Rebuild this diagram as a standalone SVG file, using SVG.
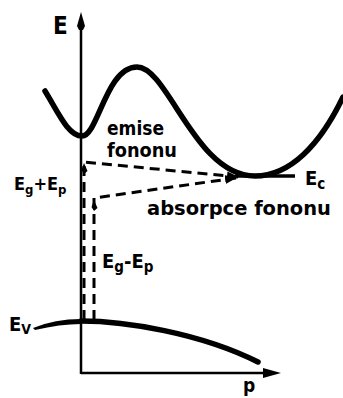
<svg xmlns="http://www.w3.org/2000/svg" width="343" height="398" viewBox="0 0 343 398">
<style>
.t{font-family:"DejaVu Sans Condensed","DejaVu Sans",sans-serif;font-weight:bold;fill:#000}
.band{fill:none;stroke:#000;stroke-width:5.5;stroke-linecap:round}
.axis{fill:none;stroke:#000;stroke-width:2.5}
.dash{fill:none;stroke:#000;stroke-width:3;stroke-dasharray:10 6}
</style>
<defs>
<marker id="ah" markerWidth="12" markerHeight="9" refX="11" refY="4.5" orient="auto" markerUnits="userSpaceOnUse">
<path d="M0,0 L12,4.5 L0,9 Z" fill="#000"/>
</marker>
</defs>
<rect width="343" height="398" fill="#fff"/>
<g id="axes">
<line class="axis" x1="81" y1="374" x2="81" y2="26"/>
<path d="M81,12 L85,26 L83,30 L79,30 L77,26 Z" fill="#000"/>
<line class="axis" x1="81" y1="373" x2="265" y2="373"/>
<path d="M281,373 L263,368 L263,378 Z" fill="#000"/>
<text class="t" x="53" y="34" font-size="24">E</text>
<text class="t" x="243" y="392" font-size="19">p</text>
</g>
<g id="conduction-band">
<path class="band" d="M45,91 C58,112 68,136 82,136 C98,136 106,67 137,67 C168,67 195,176 255,176 C290,176 320,145 343,97"/>
<line x1="235" y1="176" x2="295" y2="176" stroke="#000" stroke-width="3.5"/>
<text class="t" x="305" y="185" font-size="20">E<tspan font-size="15" dy="4">c</tspan></text>
</g>
<g id="valence-band">
<path class="band" d="M81,321 C125,321 200,333 258,362"/>
<path d="M33,328 Q55,319 81,319 L81,324 Q60,324 35,330 Z" fill="#000"/>
<text class="t" x="9" y="331" font-size="20">E<tspan font-size="14" dy="3">V</tspan></text>
</g>
<g id="connectors">
<path class="dash" d="M84,320 L84,162 L238,177" marker-end="url(#ah)"/>
<path class="dash" d="M94,320 L94,198 L236,178" marker-end="url(#ah)"/>
<path d="M84,163 L87.5,171 L84,174 L81.5,170 Z" fill="#000"/>
<path d="M94,200 L97.5,208 L94,211 L91.5,207 Z" fill="#000"/>
</g>
<g id="labels">
<text class="t" x="107" y="135" font-size="19" textLength="57" lengthAdjust="spacingAndGlyphs">emise</text>
<text class="t" x="107" y="157" font-size="19" textLength="70" lengthAdjust="spacingAndGlyphs">fononu</text>
<text class="t" x="147" y="215" font-size="20" textLength="184" lengthAdjust="spacingAndGlyphs">absorpce fononu</text>
<text class="t" x="14" y="190" font-size="18">E<tspan font-size="13" dy="4">g</tspan><tspan dy="-4">+E</tspan><tspan font-size="13" dy="4">p</tspan></text>
<text class="t" x="102" y="268" font-size="20">E<tspan font-size="15" dy="4">g</tspan><tspan dy="-4">-E</tspan><tspan font-size="15" dy="4">p</tspan></text>
</g>
</svg>
